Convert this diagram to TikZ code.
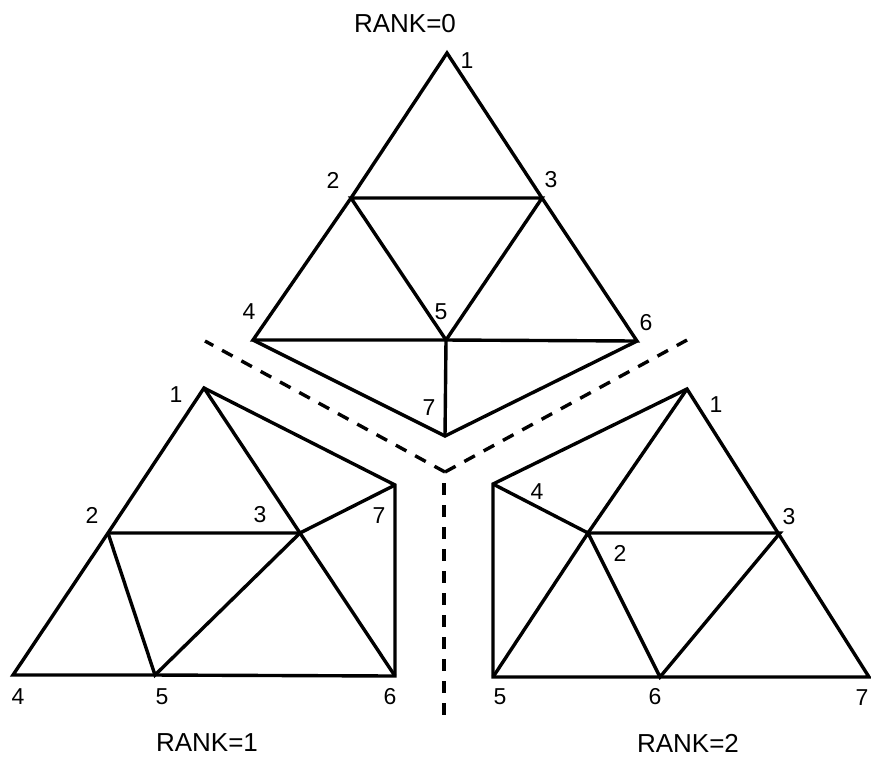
\documentclass[tikz,border=0pt]{standalone}
\usepackage{fontspec}
\setmainfont{Liberation Sans}
\usepackage{tikz}
\tikzset{
  edge/.style={line width=1.7pt,black},
  divider/.style={line width=1.7pt,black,dash pattern=on 6pt off 5pt},
  vnum/.style={font=\fontsize{11.5}{13}\selectfont,inner sep=0pt},
  rank/.style={font=\fontsize{13}{15}\selectfont,inner sep=0pt},
}
\begin{document}
\begin{tikzpicture}[x=0.5pt,y=-0.5pt]
\useasboundingbox (0,0) rectangle (871,757);
% rank 0
\coordinate (a1) at (447,53);
\coordinate (a2) at (351,198);
\coordinate (a3) at (542,198);
\coordinate (a4) at (253,340);
\coordinate (a5) at (446,340);
\coordinate (a6) at (637,341);
\coordinate (a7) at (445,436);
\draw[edge] (a1) -- (a2) -- (a4) -- (a5) -- (a6) -- (a3) -- cycle;
\draw[edge] (a2) -- (a3) -- (a5) -- cycle;
\draw[edge] (a4) -- (a7) -- (a6);
\draw[edge] (a5) -- (a7);
\node[vnum] (la1) at (467,61) {1};
\node[vnum] (la2) at (333,180) {2};
\node[vnum] (la3) at (551,180) {3};
\node[vnum] (la4) at (249,312) {4};
\node[vnum] (la5) at (441,312) {5};
\node[vnum] (la6) at (646,323) {6};
\node[vnum] (la7) at (429,408) {7};
\node[rank] (rank0) at (405,24) {RANK=0};
% rank 1
\coordinate (b1) at (204,388);
\coordinate (b2) at (108,533);
\coordinate (b3) at (300,533);
\coordinate (b4) at (13,675);
\coordinate (b5) at (155,675);
\coordinate (b6) at (395,676);
\coordinate (b7) at (395,485);
\draw[edge] (b1) -- (b2) -- (b4) -- (b5) -- (b6) -- (b7) -- cycle;
\draw[edge] (b1) -- (b3) -- (b6);
\draw[edge] (b2) -- (b3) -- (b7);
\draw[edge] (b2) -- (b5) -- (b3);
\node[vnum] (lb1) at (176,395) {1};
\node[vnum] (lb2) at (92,515) {2};
\node[vnum] (lb3) at (260,515) {3};
\node[vnum] (lb4) at (18,697) {4};
\node[vnum] (lb5) at (162,697) {5};
\node[vnum] (lb6) at (390,697) {6};
\node[vnum] (lb7) at (379,516) {7};
\node[rank] (rank1) at (207,743) {RANK=1};
% rank 2
\coordinate (c1) at (687,389);
\coordinate (c2) at (588,533);
\coordinate (c3) at (780,533);
\coordinate (c4) at (493,484);
\coordinate (c5) at (493,677);
\coordinate (c6) at (660,677);
\coordinate (c7) at (869,677);
\draw[edge] (c1) -- (c4) -- (c5) -- (c7) -- cycle;
\draw[edge] (c4) -- (c2) -- (c3) -- (c6) -- (c2) -- (c5);
\draw[edge] (c1) -- (c2);
\node[vnum] (lc1) at (716,405) {1};
\node[vnum] (lc2) at (620,553) {2};
\node[vnum] (lc3) at (789,517) {3};
\node[vnum] (lc4) at (537,492) {4};
\node[vnum] (lc5) at (500,697) {5};
\node[vnum] (lc6) at (655,697) {6};
\node[vnum] (lc7) at (862,698) {7};
\node[rank] (rank2) at (688,743) {RANK=2};
% cut lines
\coordinate (vm) at (445,472);
\coordinate (vl) at (205,341);
\coordinate (vr) at (687,340);
\coordinate (vt) at (444,483);
\coordinate (vb) at (444,716);
\draw[divider] (vm) -- (vl);
\draw[divider] (vm) -- (vr);
\draw[divider] (vt) -- (vb);
\end{tikzpicture}
\end{document}
